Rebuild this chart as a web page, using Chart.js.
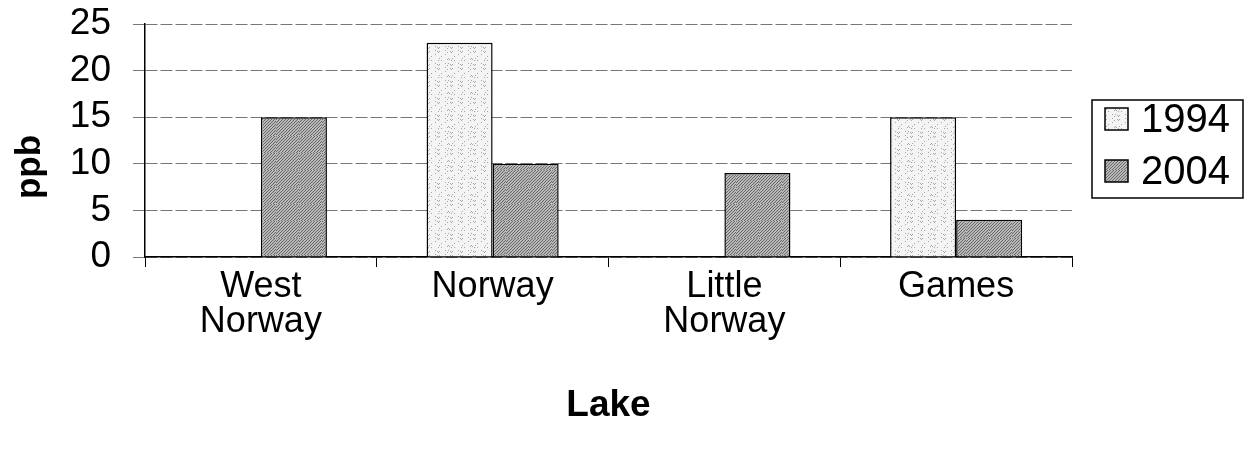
<!DOCTYPE html>
<html lang="en">
<head>
    <meta charset="UTF-8">
    <title>Lake ppb</title>
    <script src="https://cdn.jsdelivr.net/npm/chart.js"></script>
    <style>
        html, body { margin: 0; padding: 0; background: #fff; }
        #wrap { width: 1244px; height: 455px; }
    </style>
</head>
<body>
    <div id="wrap"><canvas id="lakeChart"></canvas></div>

    <script>
        // data
        const lakes = [['West', 'Norway'], 'Norway', ['Little', 'Norway'], 'Games'];
        const years = ['1994', '2004'];
        const values1994 = [null, 23, null, 15];
        const values2004 = [15, 10, 9, 4];
        const yTicks = [0, 5, 10, 15, 20, 25];
        const yTitle = 'ppb';

        const FONT = "'Liberation Sans', Arial, sans-serif";

        // stippled fills like the scanned original
        function stipple(base, dot, every) {
            const c = document.createElement('canvas');
            c.width = 23; c.height = 17;
            const g = c.getContext('2d');
            g.fillStyle = base;
            g.fillRect(0, 0, 23, 17);
            g.fillStyle = dot;
            for (let y = 0; y < 17; y++) {
                for (let x = 0; x < 23; x++) {
                    if (((x * x * 5 + y * y * 11 + x * y * 7 + x * 3) % every) === 0) g.fillRect(x, y, 1, 1);
                }
            }
            return g.createPattern(c, 'repeat');
        }
        const fill1994 = stipple('#f4f4f4', '#a8a8a8', 13);
        const fill2004 = stipple('#b8b8b8', '#6a6a6a', 3);

        // legend box on the right + the y title sitting a bit low, drawn by hand
        const extras = {
            id: 'extras',
            afterDraw(chart) {
                const ctx = chart.ctx;
                const x = 1092, y = 100, w = 151, h = 98;
                ctx.save();
                ctx.strokeStyle = '#000';
                ctx.lineWidth = 1.5;
                ctx.strokeRect(x, y, w, h);
                ctx.font = '40px ' + FONT;
                ctx.textBaseline = 'middle';
                chart.data.datasets.forEach((ds, i) => {
                    const cy = y + 19 + i * 52;
                    ctx.fillStyle = ds.backgroundColor;
                    ctx.fillRect(x + 13, cy - 11, 23, 22);
                    ctx.strokeRect(x + 13, cy - 11, 23, 22);
                    ctx.fillStyle = '#000';
                    ctx.fillText(ds.label, x + 49, cy + 2);
                });
                ctx.translate(30, 167);
                ctx.rotate(-Math.PI / 2);
                ctx.font = 'bold 35px ' + FONT;
                ctx.textAlign = 'center';
                ctx.fillText(yTitle, 0, 0);
                ctx.restore();
            }
        };

        new Chart(document.getElementById('lakeChart'), {
            type: 'bar',
            data: {
                labels: lakes,
                datasets: [{
                    label: years[0],
                    data: values1994,
                    backgroundColor: fill1994,
                    borderColor: '#000',
                    borderWidth: 1.5
                }, {
                    label: years[1],
                    data: values2004,
                    backgroundColor: fill2004,
                    borderColor: '#000',
                    borderWidth: 1.5
                }]
            },
            options: {
                responsive: true,
                maintainAspectRatio: false,
                animation: false,
                categoryPercentage: 0.57,
                barPercentage: 1.0,
                layout: { padding: { left: 10, right: 172, top: 24, bottom: 27 } },
                plugins: {
                    legend: { display: false },
                    tooltip: { enabled: false }
                },
                scales: {
                    x: {
                        afterFit(scale) { scale.height = 198 - 27; },
                        grid: {
                            offset: true,
                            drawOnChartArea: true,
                            color: ctx => ctx.index === lakes.length ? '#777' : 'rgba(0,0,0,0)',
                            tickColor: '#000',
                            tickLength: 10,
                            lineWidth: 1
                        },
                        border: { color: '#000', width: 1.5 },
                        ticks: {
                            color: '#000',
                            font: { family: FONT, size: 36, lineHeight: 0.98 },
                            padding: 2,
                            maxRotation: 0
                        },
                        title: {
                            display: true,
                            text: 'Lake',
                            color: '#000',
                            font: { family: FONT, size: 37, weight: 'bold' },
                            padding: { top: 0, bottom: 0 }
                        }
                    },
                    y: {
                        min: 0,
                        max: 25,
                        afterFit(scale) {
                            scale.width = 145 - 10;
                            scale.paddingTop = 0;
                            scale.paddingBottom = 0;
                        },
                        afterBuildTicks(scale) { scale.ticks = yTicks.map(v => ({ value: v })); },
                        grid: {
                            color: '#777',
                            tickColor: '#777',
                            tickLength: 12,
                            lineWidth: 1
                        },
                        border: { color: '#000', width: 1.5, dash: [12, 3] },
                        ticks: {
                            color: '#000',
                            font: { family: FONT, size: 37 },
                            padding: 22,
                            autoSkip: false
                        },
                        title: { display: false }
                    }
                }
            },
            plugins: [extras]
        });
    </script>
</body>
</html>
